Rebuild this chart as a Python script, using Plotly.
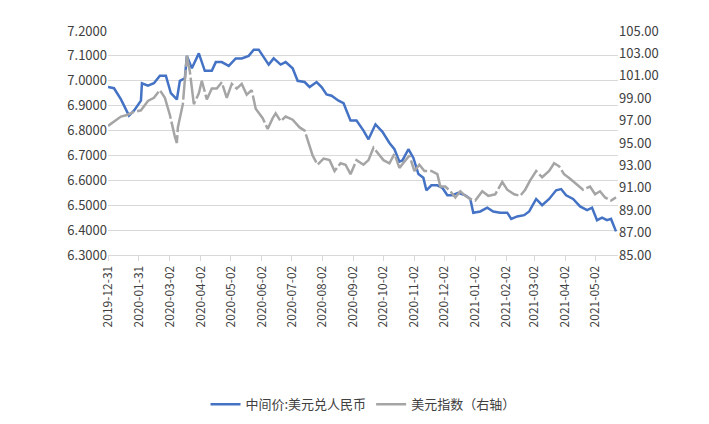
import plotly.graph_objects as go
import pandas as pd

start = pd.Timestamp("2019-12-31")
cny_days = [0,6,13,18,21,26,33,34,40,46,52,58,63,69,72,77,79,84,91,97,104,108,114,121,128,134,141,146,151,156,161,166,173,178,185,190,197,202,209,214,219,224,231,236,243,249,256,261,268,275,282,287,292,295,301,306,311,316,319,324,330,335,340,345,351,358,363,366,373,380,386,393,400,404,410,417,422,429,435,442,449,454,459,466,473,480,485,490,495,500,504,509]
cny = [6.975,6.97,6.925,6.88,6.86,6.88,6.92,6.99,6.98,6.99,7.02,7.02,6.95,6.925,7.0,7.01,7.1,7.05,7.11,7.04,7.04,7.075,7.075,7.06,7.09,7.09,7.1,7.125,7.125,7.095,7.065,7.09,7.065,7.075,7.05,7.0,6.995,6.975,6.995,6.975,6.945,6.94,6.92,6.91,6.84,6.84,6.8,6.765,6.825,6.795,6.75,6.725,6.675,6.68,6.725,6.69,6.625,6.61,6.56,6.58,6.58,6.57,6.54,6.54,6.55,6.54,6.525,6.47,6.475,6.49,6.475,6.47,6.47,6.445,6.455,6.46,6.475,6.525,6.5,6.525,6.56,6.565,6.54,6.525,6.495,6.48,6.49,6.44,6.45,6.44,6.445,6.395]
dxy_days = [0,6,13,19,26,33,40,46,52,57,62,67,69,70,75,79,82,86,91,94,99,104,109,114,119,124,129,134,139,144,148,155,160,165,168,173,178,185,192,197,200,205,210,216,222,227,233,238,243,249,256,261,266,271,276,282,287,292,297,302,307,312,317,324,330,333,338,343,348,353,358,363,368,375,381,388,395,400,407,413,418,423,429,435,442,447,452,457,463,469,476,483,488,493,498,504,509]
dxy = [96.53,96.94,97.36,97.5,97.78,97.92,98.75,99.03,99.72,99.03,97.5,95.56,95.0,96.39,98.47,102.78,101.39,98.47,99.44,100.56,98.89,99.86,99.86,100.42,99.03,100.28,99.86,100.28,99.31,99.72,98.06,97.22,96.25,97.22,97.64,96.94,97.36,97.08,96.39,96.11,95.28,93.89,93.06,93.61,93.47,92.5,93.19,93.06,92.22,93.47,93.06,93.47,94.58,94.03,93.47,93.19,94.03,92.78,93.33,93.89,92.5,93.06,92.5,92.5,92.22,91.11,91.11,90.69,90.14,90.69,90.28,90.0,89.86,90.69,90.28,90.42,91.53,90.83,90.42,90.28,90.83,91.67,92.5,91.94,92.5,93.19,92.92,92.22,91.81,91.39,90.83,91.11,90.42,90.69,90.14,89.86,90.14]
tick_dates = ["2019-12-31","2020-01-31","2020-03-02","2020-04-02","2020-05-02","2020-06-02","2020-07-02","2020-08-02","2020-09-02","2020-10-02","2020-11-02","2020-12-02","2021-01-02","2021-02-02","2021-03-02","2021-04-02","2021-05-02"]
right_ticks = [85, 87, 89, 91, 93, 95, 97, 99, 101, 103, 105]

n1 = min(len(cny_days), len(cny)); n2 = min(len(dxy_days), len(dxy))
x1 = [start + pd.Timedelta(days=d) for d in cny_days[:n1]]
x2 = [start + pd.Timedelta(days=d) for d in dxy_days[:n2]]

fig = go.Figure()
fig.add_trace(go.Scatter(x=x1, y=cny[:n1], name="中间价:美元兑人民币", mode="lines",
                         line=dict(color="#4472C4", width=2.5)))
fig.add_trace(go.Scatter(x=x2, y=dxy[:n2], name="美元指数（右轴）", mode="lines", yaxis="y2",
                         line=dict(color="#A5A5A5", width=2.5, dash="30px,3px")))
fig.update_layout(
    width=709, height=424, paper_bgcolor="white", plot_bgcolor="white",
    margin=dict(l=100, r=99, t=23, b=160),
    font=dict(family="Noto Sans CJK SC", size=12, color="#404040"),
    xaxis=dict(type="date", range=[start, start + pd.Timedelta(days=511)],
               tickvals=tick_dates, ticktext=tick_dates, tickangle=-90,
               showgrid=False, showline=True, linecolor="#D9D9D9",
               ticks="outside", tickcolor="#D9D9D9", ticklen=5),
    yaxis=dict(range=[6.3, 7.2], dtick=0.1, tickformat=".4f", showgrid=True,
               gridcolor="#D9D9D9", zeroline=False, tickfont=dict(size=13)),
    yaxis2=dict(range=[85, 105], tickvals=right_ticks, tickformat=".2f", overlaying="y", side="right",
                showgrid=False, zeroline=False, tickfont=dict(size=13)),
    legend=dict(orientation="h", x=0.5, xanchor="center", y=-0.6, yanchor="top",
                font=dict(size=13)),
)
fig.write_html("out.html")
